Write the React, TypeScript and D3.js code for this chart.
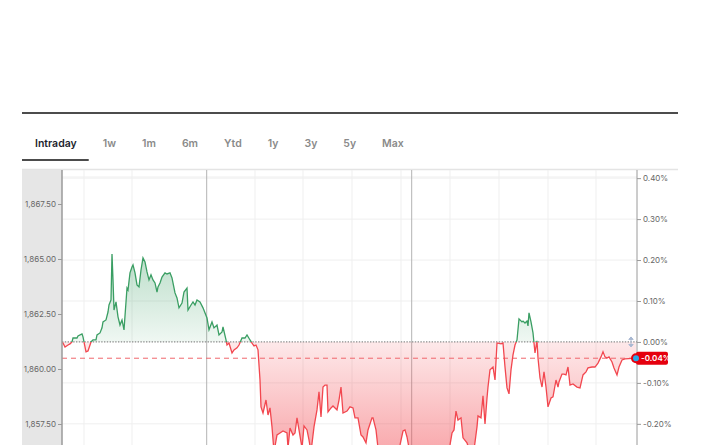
import React, { useEffect, useRef } from 'react';
import * as d3 from 'd3';

const tabs = ['Intraday', '1w', '1m', '6m', 'Ytd', '1y', '3y', '5y', 'Max'];
const previousClose = 1861.23;
const priceTicks = [1857.5, 1860, 1862.5, 1865, 1867.5];
const pctTicks = [-0.2, -0.1, 0, 0.1, 0.2, 0.3, 0.4];
// minutes since the start of the window
const hourLines = [22, 70, 193, 241, 290, 339, 388, 437, 486, 534];
const sessionLines = [144.7, 349.7];

const minutes = [
  0, 1, 3, 6, 8, 10, 11, 15, 16, 20, 21, 22, 24, 26, 29, 31, 34, 35, 38, 40,
  41, 44, 46, 47, 49, 50, 51, 52, 54, 56, 58, 60, 62, 65, 66, 68, 70, 71, 73, 75,
  77, 79, 81, 83, 85, 87, 89, 91, 93, 95, 96, 98, 100, 103, 105, 108, 110, 111, 113, 115,
  117, 120, 122, 125, 126, 129, 131, 133, 135, 138, 141, 145, 147, 150, 152, 155, 157, 160, 161, 164,
  165, 167, 170, 172, 175, 177, 180, 183, 185, 188, 190, 192, 194, 196, 198, 199, 201, 204, 206, 208,
  210, 212, 215, 218, 221, 225, 226, 228, 231, 233, 235, 237, 240, 242, 245, 247, 249, 252, 255, 257,
  259, 261, 263, 265, 266, 269, 271, 275, 277, 279, 281, 285, 288, 291, 293, 296, 299, 301, 304, 306,
  310, 311, 314, 316, 320, 326, 332, 338, 341, 343, 345, 347, 352, 358, 366, 374, 382, 388, 390, 392,
  394, 396, 399, 401, 405, 408, 412, 415, 416, 419, 421, 423, 425, 426, 428, 431, 433, 435, 436, 439,
  441, 443, 445, 447, 449, 451, 453, 455, 457, 460, 461, 463, 465, 466, 467, 469, 471, 472, 473, 475,
  476, 478, 480, 482, 484, 486, 489, 491, 494, 496, 497, 500, 502, 504, 506, 508, 511, 515, 518, 521,
  524, 526, 530, 533, 536, 539, 541, 543, 545, 547, 550, 552, 555, 557, 560, 563, 574,
];

const prices = [
  1861.2, 1861.18, 1861.0, 1861.09, 1861.14, 1861.23, 1861.41, 1861.41, 1861.5, 1861.59,
  1861.46, 1861.23, 1860.78, 1860.82, 1861.23, 1861.32, 1861.32, 1861.55, 1861.64, 1861.87,
  1862.14, 1862.23, 1862.59, 1862.91, 1863.14, 1865.23, 1864.05, 1862.68, 1863.05, 1862.37,
  1862.0, 1862.23, 1861.78, 1863.68, 1863.59, 1864.37, 1864.64, 1864.73, 1864.37, 1863.82,
  1863.73, 1864.5, 1865.05, 1864.87, 1864.41, 1864.05, 1864.28, 1864.05, 1863.91, 1863.5,
  1863.73, 1863.91, 1864.18, 1864.37, 1864.32, 1864.37, 1864.14, 1863.91, 1863.46, 1863.23,
  1862.78, 1863.0, 1863.5, 1863.68, 1862.68, 1862.91, 1863.05, 1862.91, 1863.14, 1863.05,
  1862.78, 1862.32, 1861.78, 1862.14, 1861.87, 1862.0, 1861.55, 1861.68, 1861.91, 1861.32,
  1861.09, 1861.18, 1860.73, 1860.87, 1860.96, 1861.09, 1861.41, 1861.41, 1861.55, 1861.32,
  1861.18, 1861.05, 1861.09, 1860.87, 1859.5, 1858.28, 1858.0, 1858.59, 1857.91, 1858.23,
  1857.37, 1856.23, 1857.0, 1857.09, 1857.18, 1857.09, 1856.41, 1857.32, 1857.0, 1857.09,
  1857.78, 1857.23, 1856.41, 1857.41, 1857.23, 1856.78, 1856.23, 1857.37, 1858.14, 1858.96,
  1857.82, 1859.18, 1859.27, 1859.27, 1858.05, 1858.23, 1858.32, 1858.14, 1858.59, 1859.18,
  1858.0, 1858.09, 1858.28, 1858.23, 1857.78, 1857.78, 1857.0, 1856.91, 1856.64, 1857.23,
  1857.78, 1857.78, 1857.23, 1856.41, 1855.96, 1855.77, 1855.96, 1856.55, 1857.18, 1857.23,
  1856.91, 1856.41, 1855.87, 1855.64, 1855.77, 1855.59, 1855.96, 1856.55, 1857.09, 1857.23,
  1858.09, 1857.68, 1857.78, 1856.87, 1856.64, 1856.23, 1856.32, 1857.37, 1857.87, 1857.78,
  1858.78, 1857.5, 1858.68, 1859.18, 1859.96, 1860.09, 1859.5, 1861.18, 1861.18, 1861.14,
  1861.18, 1860.09, 1859.14, 1858.87, 1859.96, 1860.64, 1861.09, 1861.32, 1862.28, 1862.14,
  1862.18, 1862.09, 1862.18, 1861.96, 1862.55, 1862.14, 1861.64, 1861.18, 1860.73, 1861.28,
  1860.5, 1859.59, 1859.18, 1859.87, 1859.18, 1858.28, 1858.68, 1858.73, 1859.5, 1859.18,
  1859.41, 1859.77, 1859.77, 1859.73, 1860.09, 1859.27, 1859.32, 1859.18, 1859.14, 1859.73,
  1859.87, 1860.05, 1860.09, 1860.09, 1860.27, 1860.55, 1860.78, 1860.55, 1860.5, 1860.55,
  1860.32, 1860.05, 1859.73, 1860.09, 1860.41, 1860.46, 1860.49,
];

const GREEN = '#3a9e63';
const RED = '#f2474f';
const FONT = 'Inter, "Noto Sans", sans-serif';

const App: React.FC = () => {
  const ref = useRef<SVGSVGElement | null>(null);

  useEffect(() => {
    if (!ref.current) return;
    const svg = d3.select(ref.current);
    svg.selectAll('*').remove();

    const left = 62, right = 637, top = 170, bottom = 445;
    const x = d3.scaleLinear().domain([0, 575]).range([left, right]);
    const y = d3.scaleLinear().domain([1857.5, 1867.5]).range([424, 204]);
    const pct = d3.scaleLinear()
      .domain([0, 0.4])
      .range([y(previousClose), y(previousClose * 1.004)]);

    const data = minutes.map((m, i) => ({ t: m, p: prices[i] }));
    const last = data[data.length - 1];
    const baseY = y(previousClose);

    // header rule
    svg.append('line')
      .attr('x1', 22).attr('x2', 678).attr('y1', 113).attr('y2', 113)
      .attr('stroke', '#111').attr('stroke-width', 1.5);

    // tabs
    const tabG = svg.append('g');
    let cursor = 35;
    tabs.forEach((name, i) => {
      const t = tabG.append('text')
        .attr('x', cursor).attr('y', 147)
        .style('font-family', FONT)
        .style('font-size', '10.5px')
        .style('font-weight', 600)
        .attr('fill', i === 0 ? '#1d1f2e' : '#8a8a8a')
        .text(name);
      const w = (t.node() as SVGTextElement).getComputedTextLength();
      if (i === 0) {
        tabG.append('line')
          .attr('x1', 22).attr('x2', cursor + w + 12)
          .attr('y1', 160).attr('y2', 160)
          .attr('stroke', '#111').attr('stroke-width', 1.5);
      }
      cursor += w + 26;
    });

    svg.append('line')
      .attr('x1', 22).attr('x2', 678).attr('y1', 169.5).attr('y2', 169.5)
      .attr('stroke', '#e4e4e4').attr('stroke-width', 1.5);

    // left price panel
    svg.append('rect')
      .attr('x', 22).attr('y', top).attr('width', left - 22).attr('height', bottom - top)
      .attr('fill', '#e6e6e6');

    const defs = svg.append('defs');
    const gGrad = defs.append('linearGradient')
      .attr('id', 'gFill').attr('gradientUnits', 'userSpaceOnUse')
      .attr('x1', 0).attr('x2', 0).attr('y1', y(1865.2)).attr('y2', baseY);
    gGrad.append('stop').attr('offset', 0).attr('stop-color', GREEN).attr('stop-opacity', 0.34);
    gGrad.append('stop').attr('offset', 1).attr('stop-color', GREEN).attr('stop-opacity', 0.08);
    const rGrad = defs.append('linearGradient')
      .attr('id', 'rFill').attr('gradientUnits', 'userSpaceOnUse')
      .attr('x1', 0).attr('x2', 0).attr('y1', baseY).attr('y2', bottom);
    rGrad.append('stop').attr('offset', 0).attr('stop-color', RED).attr('stop-opacity', 0.12);
    rGrad.append('stop').attr('offset', 1).attr('stop-color', RED).attr('stop-opacity', 0.45);

    defs.append('clipPath').attr('id', 'above').append('rect')
      .attr('x', left).attr('y', top).attr('width', right - left).attr('height', baseY - top);
    defs.append('clipPath').attr('id', 'below').append('rect')
      .attr('x', left).attr('y', baseY).attr('width', right - left).attr('height', bottom + 40 - baseY);

    // grid
    const grid = svg.append('g');
    pctTicks.filter(p => p !== 0).forEach(p => {
      grid.append('line')
        .attr('x1', left).attr('x2', right).attr('y1', pct(p)).attr('y2', pct(p))
        .attr('stroke', '#efefef').attr('stroke-width', 1);
    });
    grid.append('line')
      .attr('x1', left).attr('x2', right).attr('y1', top + 7).attr('y2', top + 7)
      .attr('stroke', '#efefef');
    hourLines.forEach(m => {
      grid.append('line')
        .attr('x1', x(m)).attr('x2', x(m)).attr('y1', top).attr('y2', bottom)
        .attr('stroke', '#efefef').attr('stroke-width', 1);
    });
    sessionLines.forEach(m => {
      grid.append('line')
        .attr('x1', x(m)).attr('x2', x(m)).attr('y1', top).attr('y2', bottom)
        .attr('stroke', '#b3b3b3').attr('stroke-width', 1);
    });

    const area = d3.area<{ t: number; p: number }>()
      .x(d => x(d.t)).y0(baseY).y1(d => y(d.p));
    const line = d3.line<{ t: number; p: number }>()
      .x(d => x(d.t)).y(d => y(d.p));

    svg.append('path').datum(data).attr('d', area)
      .attr('fill', 'url(#gFill)').attr('clip-path', 'url(#above)');
    svg.append('path').datum(data).attr('d', area)
      .attr('fill', 'url(#rFill)').attr('clip-path', 'url(#below)');

    // previous close and last price
    svg.append('line')
      .attr('x1', left).attr('x2', right).attr('y1', baseY).attr('y2', baseY)
      .attr('stroke', '#8c8c8c').attr('stroke-width', 1.3).attr('stroke-dasharray', '1.4,1.4');
    svg.append('line')
      .attr('x1', left).attr('x2', right).attr('y1', y(last.p)).attr('y2', y(last.p))
      .attr('stroke', '#f0676d').attr('stroke-width', 1).attr('stroke-dasharray', '5,4');

    svg.append('path').datum(data).attr('d', line)
      .attr('fill', 'none').attr('stroke', GREEN).attr('stroke-width', 1.3)
      .attr('clip-path', 'url(#above)');
    svg.append('path').datum(data).attr('d', line)
      .attr('fill', 'none').attr('stroke', RED).attr('stroke-width', 1.3)
      .attr('clip-path', 'url(#below)');

    // left axis
    const la = svg.append('g')
      .attr('transform', `translate(${left},0)`)
      .call(d3.axisLeft(y).tickValues(priceTicks).tickFormat(d3.format(',.2f')).tickSize(4).tickPadding(2));
    la.select('.domain').remove();
    la.selectAll('line').attr('stroke', '#999');
    la.selectAll('text').attr('fill', '#666').style('font-family', FONT).style('font-size', '8px');
    svg.append('line')
      .attr('x1', left).attr('x2', left).attr('y1', top).attr('y2', bottom)
      .attr('stroke', '#9a9a9a').attr('stroke-width', 1.5);

    // right axis
    const ra = svg.append('g')
      .attr('transform', `translate(${right},0)`)
      .call(d3.axisRight(pct).tickValues(pctTicks).tickFormat(d => `${(+d).toFixed(2)}%`).tickSize(4).tickPadding(2));
    ra.select('.domain').remove();
    ra.selectAll('line').attr('stroke', '#999');
    ra.selectAll('text').attr('fill', '#666').style('font-family', FONT).style('font-size', '8px');
    svg.append('line')
      .attr('x1', right).attr('x2', right).attr('y1', top).attr('y2', bottom)
      .attr('stroke', '#9a9a9a').attr('stroke-width', 1);

    // drag handle icon on previous close
    const hx = x(569), hy = baseY;
    const icon = svg.append('g').attr('stroke', '#a9b8d2').attr('fill', '#a9b8d2').attr('stroke-width', 1);
    icon.append('line').attr('x1', hx).attr('x2', hx).attr('y1', hy - 3).attr('y2', hy + 3);
    icon.append('path').attr('d', `M${hx - 2.2},${hy - 2.5}L${hx},${hy - 5}L${hx + 2.2},${hy - 2.5}Z`);
    icon.append('path').attr('d', `M${hx - 2.2},${hy + 2.5}L${hx},${hy + 5}L${hx + 2.2},${hy + 2.5}Z`);

    // last value tag
    const ly = y(last.p);
    const lx = x(last.t);
    const chg = (last.p / previousClose - 1) * 100;
    svg.append('rect')
      .attr('x', lx).attr('y', ly - 6.5).attr('width', 32).attr('height', 13).attr('rx', 2)
      .attr('fill', '#e5000e');
    svg.append('circle').attr('cx', lx).attr('cy', ly).attr('r', 5).attr('fill', '#e5000e');
    svg.append('circle').attr('cx', lx).attr('cy', ly).attr('r', 3)
      .attr('fill', '#28a9e6');
    svg.append('text')
      .attr('x', lx + 5).attr('y', ly + 3)
      .attr('fill', '#fff')
      .style('font-family', FONT).style('font-size', '8px').style('font-weight', 600)
      .text(`${chg.toFixed(2)}%`);
  }, []);

  return (
    <div style={{ position: 'fixed', left: 0, top: 0, width: 714, height: 445, overflow: 'hidden', background: '#fff' }}>
      <svg ref={ref} width={714} height={445} style={{ display: 'block' }} />
    </div>
  );
};

export default App;
